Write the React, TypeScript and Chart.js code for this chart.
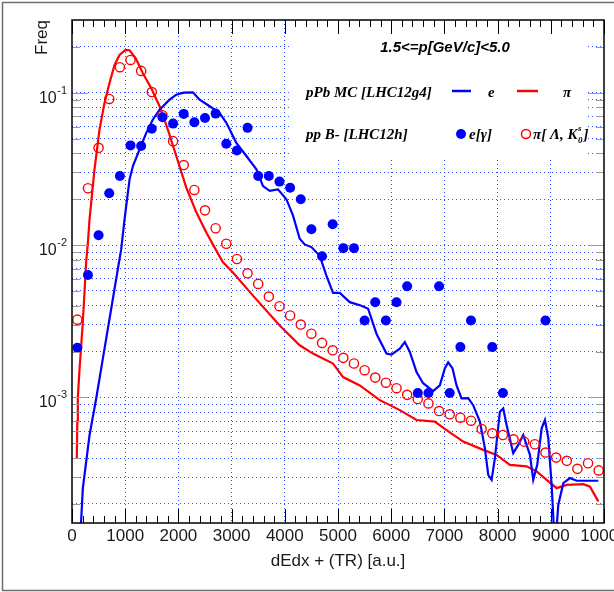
import React, { useEffect, useRef } from 'react';
import { Chart, registerables } from 'chart.js';

Chart.register(...registerables);

const W = 614;
const H = 592;
const SANS = "'Liberation Sans', Arial, Helvetica, sans-serif";
const SERIF = "'Liberation Serif', 'Times New Roman', serif";

// ---- data ----
const binCenters = [
  100, 300, 500, 700, 900, 1100, 1300, 1500, 1700, 1900,
  2100, 2300, 2500, 2700, 2900, 3100, 3300, 3500, 3700, 3900,
  4100, 4300, 4500, 4700, 4900, 5100, 5300, 5500, 5700, 5900,
  6100, 6300, 6500, 6700, 6900, 7100, 7300, 7500, 7700, 7900,
  8100, 8300, 8500, 8700, 8900, 9100, 9300, 9500, 9700, 9900,
];

// pp B- [LHC12h]  e[gamma]  (filled blue)
const eGammaFreq: (number | null)[] = [
  0.00212, 0.00637, 0.0116, 0.0219, 0.0284, 0.0451, 0.0447, 0.058, 0.069, 0.0627,
  0.0726, 0.064, 0.0683, 0.0729, 0.0462, 0.0418, 0.0588, 0.0284, 0.0284, 0.0261,
  0.0238, 0.02, 0.0127, 0.00844, 0.0137, 0.00955, 0.00955, 0.0032, 0.00422, 0.0032,
  0.00422, 0.00537, 0.00107, 0.00107, 0.00537, 0.00107, 0.00214, 0.0032, null, 0.00214,
  0.00107, null, null, null, 0.0032, null, null, null, null, null,
];

// pp B- [LHC12h]  pi[Lambda, K0s]  (open red)
const piV0Freq: (number | null)[] = [
  0.00324, 0.0236, 0.0435, 0.091, 0.147, 0.164, 0.139, 0.101, 0.0712, 0.0481,
  0.0335, 0.023, 0.0169, 0.0129, 0.0102, 0.0081, 0.00653, 0.00556, 0.00459, 0.00397,
  0.00345, 0.00301, 0.00262, 0.00228, 0.00204, 0.00182, 0.00167, 0.00151, 0.00135, 0.00125,
  0.00115, 0.00104, 0.000976, 0.000914, 0.000814, 0.000775, 0.000737, 0.000704, 0.000621, 0.000582,
  0.000567, 0.000531, 0.000513, 0.000493, 0.000435, 0.000403, 0.000384, 0.00034, 0.00037, 0.000332,
];

// pPb MC [LHC12g4]  e  (blue line)
const mcElectronX = [
  160, 204, 330, 455, 580, 737, 862, 925, 988, 1082, 1145, 1270, 1396, 1521, 1646, 1834, 1960,
  2100, 2273, 2399, 2587, 2775, 2901, 3089, 3278, 3466, 3590, 3716, 3872, 4030, 4155, 4280,
  4374, 4500, 4657, 4782, 4907, 5033, 5221, 5441, 5566, 5723, 5911, 6005, 6162, 6256, 6350,
  6476, 6600, 6788, 6914, 7008, 7071, 7153, 7228, 7322, 7447, 7541, 7667, 7761, 7824, 7887,
  7949, 8043, 8106, 8169, 8294, 8388, 8482, 8608, 8670, 8745, 8828, 8890, 8953, 9016, 9078,
  9141, 9235, 9360, 9486, 9893,
];
const mcElectronFreq = [
  0.00013, 0.000254, 0.000567, 0.000985, 0.0018, 0.00382, 0.00697, 0.0094, 0.0148, 0.027, 0.033,
  0.0424, 0.0545, 0.0667, 0.0774, 0.09, 0.097,
  0.1, 0.1005, 0.09, 0.0815, 0.0736, 0.0634, 0.0469, 0.0384, 0.0314, 0.0244, 0.0227, 0.0232, 0.02,
  0.0156, 0.011,
  0.0101, 0.0097, 0.0085, 0.0063, 0.00486, 0.00486, 0.00422, 0.004, 0.00382, 0.00262, 0.00194,
  0.00191, 0.00209, 0.00231, 0.00199,
  0.00147, 0.00124, 0.0011, 0.0012, 0.00155, 0.0017, 0.00155, 0.0012, 0.000985, 0.00099, 0.00089,
  0.000694, 0.000465, 0.000311, 0.000288,
  0.000399, 0.000806, 0.000847, 0.000659, 0.000431, 0.000488, 0.000567, 0.00042, 0.000288,
  0.000361, 0.000627, 0.000711, 0.00054, 0.000267, 0.0001,
  0.000198, 0.000274, 0.000296, 0.000284, 0.000284,
];

// pPb MC [LHC12g4]  pi  (red line)
const mcPionX = [
  90, 100, 110, 140, 200, 235, 267, 300, 330, 423, 517, 611, 705, 800, 894, 1006, 1082, 1195,
  1332, 1490, 1646, 1802, 1960, 2148, 2337, 2525, 2713, 2838, 3025, 3402, 3904, 4280, 4530,
  4907, 5095, 5409, 5785, 6162, 6476, 6820, 7040, 7353, 7729, 7981, 8231, 8545, 8734, 8922,
  9110, 9298, 9611, 9737, 9893,
];
const mcPionFreq = [
  0.0004, 0.0007, 0.001, 0.0015, 0.003, 0.0049, 0.0078, 0.0105, 0.0148, 0.0314, 0.0573, 0.0857,
  0.1157, 0.152, 0.177, 0.191, 0.19, 0.169,
  0.134, 0.107, 0.0815, 0.0573, 0.0384, 0.0238, 0.0164, 0.0121, 0.0092, 0.0077, 0.0066, 0.00466,
  0.00297, 0.0022, 0.00194,
  0.00167, 0.00136, 0.0012, 0.00096, 0.000826, 0.000711, 0.000694, 0.000611, 0.000513, 0.000453,
  0.00042, 0.000361, 0.000353, 0.000327, 0.000288,
  0.000254, 0.000267, 0.00027, 0.00026, 0.000208,
];

// ---- axes ----
const xMin = 0;
const xMax = 10000;
const yMin = 1.5e-4;
const yMax = 0.3;
const xLabelValues = [0, 1000, 2000, 3000, 4000, 5000, 6000, 7000, 8000, 9000, 10000];
const xTickLabels = ['0', '1000', '2000', '3000', '4000', '5000', '6000', '7000', '8000', '9000', '10000'];
const yDecades = [0.001, 0.01, 0.1];
const yDecadeExponents = ['-3', '-2', '-1'];
const yMinorValues = [
  0.0002, 0.0003, 0.0004, 0.0005, 0.0006, 0.0007, 0.0008, 0.0009,
  0.001, 0.002, 0.003, 0.004, 0.005, 0.006, 0.007, 0.008, 0.009,
  0.01, 0.02, 0.03, 0.04, 0.05, 0.06, 0.07, 0.08, 0.09,
  0.1, 0.2,
];
const xGridValues = [1000, 2000, 3000, 4000, 5000, 6000, 7000, 8000, 9000];

const GRID_COLOR = 'rgba(30,70,255,0.95)';
const BLUE = 'rgb(0,0,255)';
const RED = 'rgb(255,0,0)';

const rootStyle = {
  id: 'rootStyle',
  beforeDatasetsDraw(chart: any) {
    const { ctx, chartArea: a } = chart;
    ctx.save();
    ctx.fillStyle = '#ffffff';
    ctx.fillRect(289, a.top + 1, 588 - 289, 157 - a.top - 1);
    ctx.restore();
  },
  afterDraw(chart: any) {
    const { ctx, chartArea: a, scales } = chart;
    const xs = scales.x;
    const ys = scales.y;
    ctx.save();

    // x ticks (bottom and top, inward)
    ctx.strokeStyle = '#000';
    ctx.lineWidth = 1;
    for (let v = xMin; v <= xMax; v += 200) {
      const px = Math.round(xs.getPixelForValue(v)) + 0.5;
      const len = v % 1000 === 0 ? 14 : 7;
      ctx.beginPath();
      ctx.moveTo(px, a.bottom);
      ctx.lineTo(px, a.bottom - len);
      ctx.moveTo(px, a.top);
      ctx.lineTo(px, a.top + len);
      ctx.stroke();
    }
    // y ticks (left and right, inward)
    ctx.strokeStyle = '#9a9a9a';
    const yAll = [...yMinorValues];
    yAll.forEach((v) => {
      const py = Math.round(ys.getPixelForValue(v)) + 0.5;
      const major = yDecades.includes(v);
      const len = major ? 16 : 8;
      ctx.beginPath();
      ctx.moveTo(a.left, py);
      ctx.lineTo(a.left + len, py);
      ctx.moveTo(a.right, py);
      ctx.lineTo(a.right - len, py);
      ctx.stroke();
    });

    // frame
    ctx.strokeStyle = '#000';
    ctx.lineWidth = 1.5;
    ctx.strokeRect(a.left, a.top, a.right - a.left, a.bottom - a.top);

    // x tick labels
    ctx.fillStyle = '#1a1a1a';
    ctx.font = `17px ${SANS}`;
    ctx.textAlign = 'center';
    ctx.textBaseline = 'alphabetic';
    xLabelValues.forEach((v, i) => {
      ctx.fillText(xTickLabels[i], xs.getPixelForValue(v), a.bottom + 18);
    });

    // y tick labels 10^n
    yDecades.forEach((v, i) => {
      const py = ys.getPixelForValue(v);
      ctx.font = `11px ${SANS}`;
      const we = ctx.measureText(yDecadeExponents[i]).width;
      const ex = a.left - 5 - we;
      ctx.textAlign = 'left';
      ctx.fillText(yDecadeExponents[i], ex, py + 1);
      ctx.font = `16px ${SANS}`;
      ctx.textAlign = 'right';
      ctx.fillText('10', ex - 0.5, py + 10);
    });

    // axis titles
    ctx.font = `17px ${SANS}`;
    ctx.textAlign = 'center';
    ctx.fillText('dEdx + (TR) [a.u.]', (a.left + a.right) / 2, 566);
    ctx.save();
    ctx.translate(47, a.top);
    ctx.rotate(-Math.PI / 2);
    ctx.textAlign = 'right';
    ctx.fillText('Freq', 0, 0);
    ctx.restore();

    // legend
    ctx.fillStyle = '#000';
    ctx.font = `italic bold 15px ${SANS}`;
    ctx.textAlign = 'center';
    ctx.fillText('1.5<=p[GeV/c]<5.0', 445, 52);

    ctx.textAlign = 'left';
    ctx.font = `italic bold 15px ${SERIF}`;
    ctx.fillText('pPb MC [LHC12g4]', 306, 97);
    ctx.lineWidth = 2.5;
    ctx.strokeStyle = BLUE;
    ctx.beginPath();
    ctx.moveTo(452, 91);
    ctx.lineTo(471, 91);
    ctx.stroke();
    ctx.fillText('e', 488, 97);
    ctx.strokeStyle = RED;
    ctx.beginPath();
    ctx.moveTo(517, 91);
    ctx.lineTo(538, 91);
    ctx.stroke();
    ctx.textAlign = 'center';
    ctx.fillText('\u03c0', 567, 97);

    ctx.textAlign = 'left';
    ctx.fillText('pp B- [LHC12h]', 306, 139);
    ctx.fillStyle = BLUE;
    ctx.beginPath();
    ctx.arc(461, 134, 5, 0, Math.PI * 2);
    ctx.fill();
    ctx.fillStyle = '#000';
    ctx.fillText('e[\u03b3]', 469, 139);
    ctx.strokeStyle = RED;
    ctx.lineWidth = 1.5;
    ctx.beginPath();
    ctx.arc(526, 134, 4.5, 0, Math.PI * 2);
    ctx.stroke();
    let tx = 533;
    const part1 = '\u03c0[ \u039b, K';
    ctx.fillText(part1, tx, 139);
    tx += ctx.measureText(part1).width + 0.5;
    ctx.font = `italic bold 9px ${SERIF}`;
    ctx.fillText('s', tx, 131);
    ctx.fillText('0', tx, 143);
    tx += ctx.measureText('0').width + 1;
    ctx.font = `italic bold 15px ${SERIF}`;
    ctx.fillText(']', tx, 139);

    // outer canvas frame
    ctx.strokeStyle = '#6e6e6e';
    ctx.lineWidth = 1.5;
    ctx.strokeRect(2.5, 2.5, W + 20, H - 4);

    ctx.restore();
  },
};

export default function App() {
  const ref = useRef<HTMLCanvasElement>(null);

  useEffect(() => {
    const canvas = ref.current;
    if (!canvas) return;
    const chart = new Chart(canvas, {
      type: 'scatter',
      data: {
        datasets: [
          {
            label: 'e[\u03b3]',
            data: binCenters.map((x, i) => ({ x, y: eGammaFreq[i] as any })),
            showLine: false,
            pointRadius: 5,
            pointBackgroundColor: BLUE,
            pointBorderColor: BLUE,
            pointBorderWidth: 0,
          },
          {
            label: '\u03c0[\u039b, K0s]',
            data: binCenters.map((x, i) => ({ x, y: piV0Freq[i] as any })),
            showLine: false,
            pointRadius: 4.6,
            pointBackgroundColor: 'rgba(0,0,0,0)',
            pointBorderColor: RED,
            pointBorderWidth: 1.4,
          },
          {
            label: 'e MC',
            data: mcElectronX.map((x, i) => ({ x, y: mcElectronFreq[i] })),
            showLine: true,
            pointRadius: 0,
            borderColor: BLUE,
            borderWidth: 2.2,
            tension: 0,
          },
          {
            label: '\u03c0 MC',
            data: mcPionX.map((x, i) => ({ x, y: mcPionFreq[i] })),
            showLine: true,
            pointRadius: 0,
            borderColor: RED,
            borderWidth: 2.2,
            tension: 0,
          },
        ],
      },
      options: {
        responsive: false,
        animation: false,
        devicePixelRatio: 1,
        layout: { padding: { top: 20, right: 10, left: 0, bottom: 0 } },
        plugins: { legend: { display: false }, tooltip: { enabled: false } },
        scales: {
          x: {
            type: 'linear',
            position: 'bottom',
            min: xMin,
            max: xMax,
            ticks: { display: false },
            grid: { color: GRID_COLOR, lineWidth: 1, drawTicks: false, tickLength: 0 },
            border: { display: false, dash: [1, 3] },
            afterBuildTicks: (s: any) => {
              s.ticks = xGridValues.map((v) => ({ value: v }));
            },
            afterFit: (s: any) => {
              s.height = 69;
            },
          },
          y: {
            type: 'logarithmic',
            position: 'left',
            min: yMin,
            max: yMax,
            ticks: { display: false },
            grid: { color: GRID_COLOR, lineWidth: 1, drawTicks: false, tickLength: 0 },
            border: { display: false, dash: [1, 3] },
            afterBuildTicks: (s: any) => {
              s.ticks = yMinorValues.map((v) => ({ value: v }));
            },
            afterFit: (s: any) => {
              s.width = 72;
            },
          },
        },
      } as any,
      plugins: [rootStyle],
    });
    return () => chart.destroy();
  }, []);

  return (
    <div style={{ position: 'absolute', left: 0, top: 0, width: W, height: H, background: '#fff' }}>
      <canvas ref={ref} width={W} height={H} style={{ display: 'block', width: W, height: H }} />
    </div>
  );
}
